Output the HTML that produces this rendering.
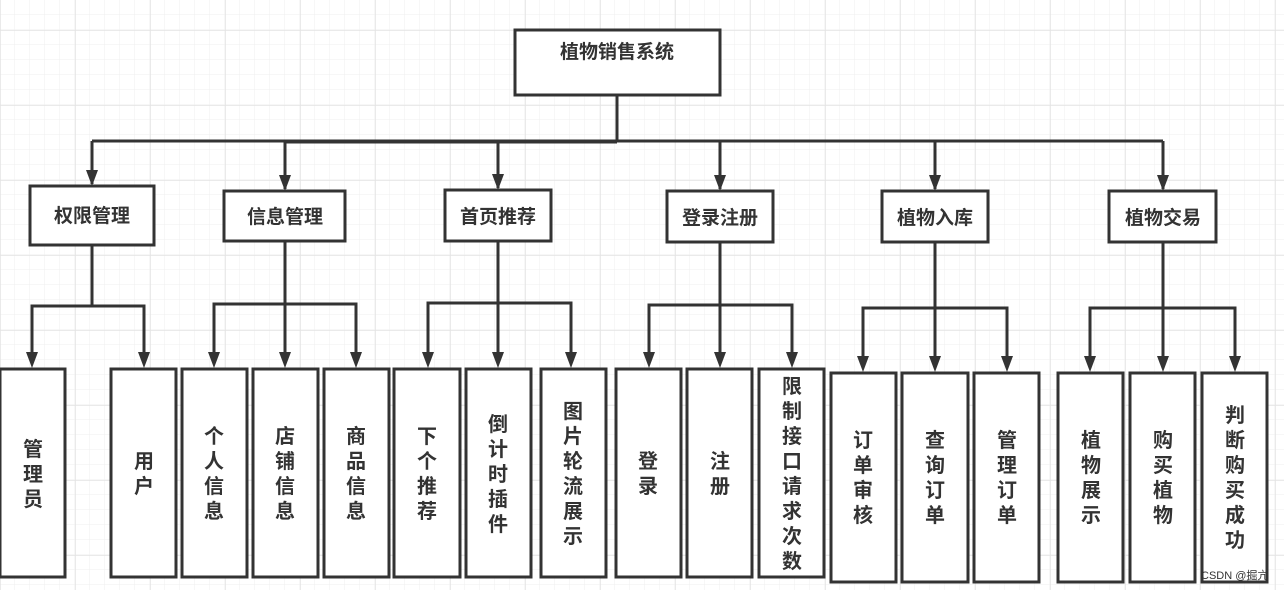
<!DOCTYPE html>
<html><head><meta charset="utf-8"><style>
html,body{margin:0;padding:0;background:#fff;}
svg{display:block;}
text{font-family:"Liberation Sans","Noto Sans CJK SC",sans-serif;font-weight:bold;fill:#333;}
</style></head><body>
<svg width="1284" height="590" viewBox="0 0 1284 590" xmlns="http://www.w3.org/2000/svg">
<defs>
<pattern id="g" width="15" height="15" patternUnits="userSpaceOnUse" x="0" y="0">
<path d="M15 0V15M0 15H15" stroke="#efefef" stroke-width="1" fill="none"/>
</pattern>
<pattern id="G" width="75" height="75" patternUnits="userSpaceOnUse" x="0" y="30">
<path d="M0 0H75M0 0V75" stroke="#e3e3e3" stroke-width="1.5" fill="none"/>
</pattern>
<marker id="a" markerWidth="10" markerHeight="10" refX="5" refY="9" orient="auto" markerUnits="userSpaceOnUse">
<path d="M0 0L5 10L10 0L5 3Z" fill="#333" transform="rotate(0)"/>
</marker>
</defs>
<rect width="1284" height="590" fill="url(#g)"/>
<rect width="1284" height="590" fill="url(#G)"/>
<g stroke="#333" stroke-width="3" fill="none">
<rect x="515" y="30" width="205" height="65" fill="#fff"/>
<path d="M617 95V141"/>
<path d="M286 142H617M92 141H1163"/>
</g>
<g stroke="#333" stroke-width="3" fill="none">
<path d="M92 141V184M285 141V189M498 141V188M720 141V189M935 141V189M1163 141V189" marker-end="url(#arr)"/>
</g>
<g fill="#333">
<path d="M86 170L92 186L98 170Z"/><path d="M279 175L285 191L291 175Z"/><path d="M492 174L498 190L504 174Z"/>
<path d="M714 175L720 191L726 175Z"/><path d="M929 175L935 191L941 175Z"/><path d="M1157 175L1163 191L1169 175Z"/>
</g>
<g stroke="#333" stroke-width="3" fill="#fff">
<rect x="30" y="186" width="124" height="59"/>
<rect x="224" y="191" width="121" height="50"/>
<rect x="445" y="190" width="106" height="51"/>
<rect x="667" y="191" width="106" height="51"/>
<rect x="882" y="191" width="106" height="51"/>
<rect x="1109" y="191" width="107" height="51"/>
</g>
<g font-size="19" text-anchor="middle">
<text x="617" y="58">植物销售系统</text>
<text x="92" y="222">权限管理</text>
<text x="285" y="223">信息管理</text>
<text x="498" y="223">首页推荐</text>
<text x="720" y="224">登录注册</text>
<text x="935" y="224">植物入库</text>
<text x="1163" y="224">植物交易</text>
</g>
<g stroke="#333" stroke-width="3" fill="none">
<path d="M92 245V306M32 353V306H144V353"/>
<path d="M285 241V353M214 353V304H356V353"/>
<path d="M498 241V353M428 353V303H571V353"/>
<path d="M720 242V353M649 353V305H792V353"/>
<path d="M935 242V357M863 357V308H1007V357"/>
<path d="M1163 242V357M1090 357V308H1235V357"/>
</g>
<g fill="#333">
<path d="M26 352L32 368L38 352Z"/><path d="M138 352L144 368L150 352Z"/>
<path d="M208 352L214 368L220 352Z"/><path d="M279 352L285 368L291 352Z"/><path d="M350 352L356 368L362 352Z"/>
<path d="M422 352L428 368L434 352Z"/><path d="M492 352L498 368L504 352Z"/><path d="M565 352L571 368L577 352Z"/>
<path d="M643 352L649 368L655 352Z"/><path d="M714 352L720 368L726 352Z"/><path d="M786 352L792 368L798 352Z"/>
<path d="M857 356L863 372L869 356Z"/><path d="M929 356L935 372L941 356Z"/><path d="M1001 356L1007 372L1013 356Z"/>
<path d="M1084 356L1090 372L1096 356Z"/><path d="M1157 356L1163 372L1169 356Z"/><path d="M1229 356L1235 372L1241 356Z"/>
</g>
<g stroke="#333" stroke-width="3" fill="#fff">
<rect x="0" y="369" width="65" height="208"/>
<rect x="111" y="369" width="65" height="208"/>
<rect x="182" y="369" width="65" height="208"/>
<rect x="253" y="369" width="65" height="208"/>
<rect x="324" y="369" width="65" height="208"/>
<rect x="394" y="369" width="66" height="208"/>
<rect x="466" y="369" width="65" height="208"/>
<rect x="541" y="369" width="65" height="208"/>
<rect x="616" y="369" width="65" height="208"/>
<rect x="687" y="369" width="65" height="208"/>
<rect x="759" y="369" width="65" height="208"/>
<rect x="831" y="373" width="65" height="209"/>
<rect x="902" y="373" width="66" height="209"/>
<rect x="974" y="373" width="65" height="209"/>
<rect x="1058" y="373" width="65" height="209"/>
<rect x="1130" y="373" width="65" height="209"/>
<rect x="1202" y="373" width="65" height="209"/>
</g>
<g font-size="20" text-anchor="middle">
<text x="33"><tspan x="33" y="456">管</tspan><tspan x="33" y="481">理</tspan><tspan x="33" y="506">员</tspan></text>
<text><tspan x="144" y="468">用</tspan><tspan x="144" y="493">户</tspan></text>
<text><tspan x="214" y="443">个</tspan><tspan x="214" y="468">人</tspan><tspan x="214" y="493">信</tspan><tspan x="214" y="518">息</tspan></text>
<text><tspan x="285" y="443">店</tspan><tspan x="285" y="468">铺</tspan><tspan x="285" y="493">信</tspan><tspan x="285" y="518">息</tspan></text>
<text><tspan x="356" y="443">商</tspan><tspan x="356" y="468">品</tspan><tspan x="356" y="493">信</tspan><tspan x="356" y="518">息</tspan></text>
<text><tspan x="427" y="443">下</tspan><tspan x="427" y="468">个</tspan><tspan x="427" y="493">推</tspan><tspan x="427" y="518">荐</tspan></text>
<text><tspan x="498" y="431">倒</tspan><tspan x="498" y="456">计</tspan><tspan x="498" y="481">时</tspan><tspan x="498" y="506">插</tspan><tspan x="498" y="531">件</tspan></text>
<text><tspan x="573" y="418">图</tspan><tspan x="573" y="443">片</tspan><tspan x="573" y="468">轮</tspan><tspan x="573" y="493">流</tspan><tspan x="573" y="518">展</tspan><tspan x="573" y="543">示</tspan></text>
<text><tspan x="648" y="468">登</tspan><tspan x="648" y="493">录</tspan></text>
<text><tspan x="720" y="468">注</tspan><tspan x="720" y="493">册</tspan></text>
<text><tspan x="792" y="393">限</tspan><tspan x="792" y="418">制</tspan><tspan x="792" y="443">接</tspan><tspan x="792" y="468">口</tspan><tspan x="792" y="493">请</tspan><tspan x="792" y="518">求</tspan><tspan x="792" y="543">次</tspan><tspan x="792" y="568">数</tspan></text>
<text><tspan x="863" y="447">订</tspan><tspan x="863" y="472">单</tspan><tspan x="863" y="497">审</tspan><tspan x="863" y="522">核</tspan></text>
<text><tspan x="935" y="447">查</tspan><tspan x="935" y="472">询</tspan><tspan x="935" y="497">订</tspan><tspan x="935" y="522">单</tspan></text>
<text><tspan x="1007" y="447">管</tspan><tspan x="1007" y="472">理</tspan><tspan x="1007" y="497">订</tspan><tspan x="1007" y="522">单</tspan></text>
<text><tspan x="1091" y="447">植</tspan><tspan x="1091" y="472">物</tspan><tspan x="1091" y="497">展</tspan><tspan x="1091" y="522">示</tspan></text>
<text><tspan x="1163" y="447">购</tspan><tspan x="1163" y="472">买</tspan><tspan x="1163" y="497">植</tspan><tspan x="1163" y="522">物</tspan></text>
<text><tspan x="1235" y="422">判</tspan><tspan x="1235" y="447">断</tspan><tspan x="1235" y="472">购</tspan><tspan x="1235" y="497">买</tspan><tspan x="1235" y="522">成</tspan><tspan x="1235" y="547">功</tspan></text>
</g>
<text x="1201" y="579" font-size="11" font-weight="normal" style="font-weight:normal" fill="#999">CSDN @掘亢</text>
</svg>
</body></html>
